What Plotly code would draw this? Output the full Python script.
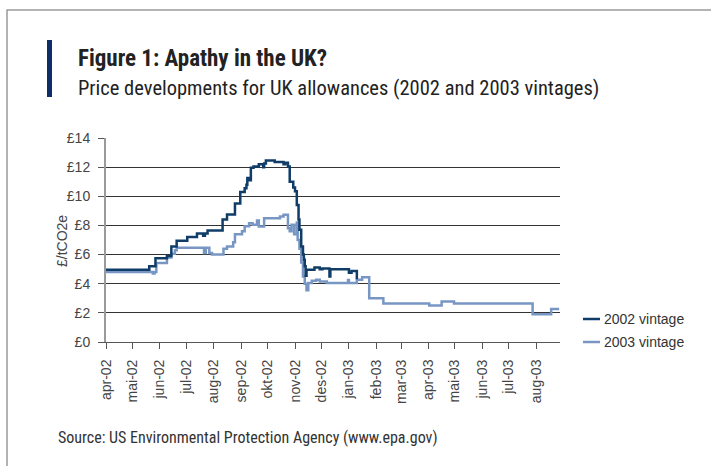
import plotly.graph_objects as go

# UK allowance prices, £/tCO2e (step series, each value holds until the next date)
dates_2002 = ["2002-04-01", "2002-05-20", "2002-05-27", "2002-06-09", "2002-06-14", "2002-06-20",
              "2002-07-02", "2002-07-13", "2002-07-20", "2002-07-22", "2002-07-25", "2002-08-11",
              "2002-08-16", "2002-08-25", "2002-08-31", "2002-09-05", "2002-09-07", "2002-09-08",
              "2002-09-10", "2002-09-12", "2002-09-15", "2002-09-21", "2002-09-26", "2002-09-27",
              "2002-09-29", "2002-10-09", "2002-10-19", "2002-10-21", "2002-10-24", "2002-10-26",
              "2002-10-30", "2002-11-01", "2002-11-03", "2002-11-05", "2002-11-06", "2002-11-08",
              "2002-11-10", "2002-11-11", "2002-11-12", "2002-11-13", "2002-11-14", "2002-11-23",
              "2002-11-29", "2002-12-02", "2002-12-10", "2002-12-11", "2003-01-01", "2003-01-04",
              "2003-01-10"]
prices_2002 = [4.95, 5.2, 5.75, 5.9, 6.55, 6.95,
               7.2, 7.45, 7.3, 7.45, 7.65, 8.4,
               8.75, 9.5, 10.3, 10.55, 10.8, 11.25,
               11.1, 11.95, 12.05, 12.2, 12.0, 12.25,
               12.45, 12.35, 12.2, 12.3, 12.05, 11.0,
               10.6, 10.35, 9.4, 8.4, 7.7, 6.55,
               6.0, 5.65, 5.2, 4.55, 4.95, 5.12,
               5.0, 5.05, 4.5, 5.0, 4.75, 4.88,
               4.3]

dates_2003 = ["2002-04-01", "2002-05-24", "2002-05-26", "2002-05-28", "2002-06-09", "2002-06-14",
              "2002-06-18", "2002-06-20", "2002-07-21", "2002-07-23", "2002-07-27", "2002-07-30",
              "2002-08-12", "2002-08-16", "2002-08-23", "2002-08-25", "2002-09-02", "2002-09-05",
              "2002-09-10", "2002-09-14", "2002-09-19", "2002-09-21", "2002-09-27", "2002-10-15",
              "2002-10-19", "2002-10-24", "2002-10-26", "2002-10-28", "2002-10-31", "2002-11-03",
              "2002-11-04", "2002-11-06", "2002-11-08", "2002-11-10", "2002-11-12", "2002-11-14",
              "2002-11-16", "2002-11-20", "2002-11-25", "2002-11-29", "2002-12-07", "2002-12-31",
              "2003-01-01", "2003-01-10", "2003-01-16", "2003-01-24", "2003-02-09", "2003-04-02",
              "2003-04-16", "2003-04-30", "2003-07-28", "2003-08-18", "2003-08-27"]
prices_2003 = [4.8, 4.7, 4.8, 5.42, 5.8, 6.05,
               6.3, 6.47, 6.1, 6.47, 6.1, 6.0,
               6.4, 6.55, 6.85, 7.4, 7.6, 7.95,
               8.15, 8.05, 8.33, 7.93, 8.5, 8.62,
               8.74, 7.8, 7.6, 8.05, 7.4, 8.2,
               7.0, 6.4, 5.45, 4.5, 4.0, 3.55,
               4.05, 4.2, 4.28, 4.15, 4.05, 4.25,
               4.05, 4.28, 4.45, 3.0, 2.65, 2.5,
               2.78, 2.65, 1.9, 2.27, 2.27]

month_ticks = ["2002-04-01", "2002-05-01", "2002-06-01", "2002-07-01", "2002-08-01", "2002-09-01",
               "2002-10-01", "2002-11-01", "2002-12-01", "2003-01-01", "2003-02-01", "2003-03-01",
               "2003-04-01", "2003-05-01", "2003-06-01", "2003-07-01", "2003-08-01"]
month_labels = ["apr-02", "mai-02", "jun-02", "jul-02", "aug-02", "sep-02", "okt-02", "nov-02",
                "des-02", "jan-03", "feb-03", "mar-03", "apr-03", "mai-03", "jun-03", "jul-03", "aug-03"]
price_ticks = [0, 2, 4, 6, 8, 10, 12, 14]
series_names = ["2002 vintage", "2003 vintage"]

DARK = "#0f3d68"
LIGHT = "#7896c4"
SANS = "Liberation Sans, Arial, sans-serif"
NARROW = "Liberation Sans Narrow, Arial Narrow, Roboto Condensed, sans-serif"

W, H = 711, 466
L, R, T, B = 106, 151, 138, 124
PW, PH = W - L - R, H - T - B


def px(x):
    return (x - L) / PW


def py(y):
    return (H - B - y) / PH


fig = go.Figure()
fig.add_trace(go.Scatter(x=dates_2003, y=prices_2003, mode="lines", line_shape="hv",
                         line=dict(color=LIGHT, width=2.5), name=series_names[1], showlegend=False))
fig.add_trace(go.Scatter(x=dates_2002, y=prices_2002, mode="lines", line_shape="hv",
                         line=dict(color=DARK, width=2.5), name=series_names[0], showlegend=False))

shapes = [
    # outer frame (top and left edges)
    dict(type="rect", xref="paper", yref="paper", x0=px(7), x1=px(730), y0=py(490), y1=py(10),
         line=dict(color="#9a9a9a", width=1.5), fillcolor="rgba(0,0,0,0)", layer="below"),
    # accent bar beside the heading
    dict(type="rect", xref="paper", yref="paper", x0=px(47), x1=px(52), y0=py(97), y1=py(40),
         line=dict(width=0), fillcolor="#0b2f66"),
]
annotations = [
    dict(text="<b>Figure 1: Apathy in the UK?</b>", xref="paper", yref="paper", x=px(76), y=py(58),
         xanchor="left", yanchor="middle", showarrow=False, font=dict(family=NARROW, size=23, color="#222")),
    dict(text="Price developments for UK allowances (2002 and 2003 vintages)", xref="paper", yref="paper",
         x=px(76), y=py(88), xanchor="left", yanchor="middle", showarrow=False,
         font=dict(family=NARROW, size=20.5, color="#222")),
    dict(text="Source: US Environmental Protection Agency (www.epa.gov)", xref="paper", yref="paper",
         x=px(56), y=py(437), xanchor="left", yanchor="middle", showarrow=False,
         font=dict(family=NARROW, size=16, color="#333")),
    # value-axis title
    dict(text="£/tCO2e", xref="paper", yref="paper", x=px(62), y=py(241), textangle=-90,
         xanchor="center", yanchor="middle", showarrow=False, font=dict(family=SANS, size=14, color="#444")),
]
# legend drawn as short line keys with labels
for i, (name, col) in enumerate(zip(series_names, [DARK, LIGHT])):
    yy = 319 + 23 * i
    shapes.append(dict(type="line", xref="paper", yref="paper", x0=px(583), x1=px(600), y0=py(yy), y1=py(yy),
                       line=dict(color=col, width=2.5)))
    annotations.append(dict(text=name, xref="paper", yref="paper", x=px(602), y=py(yy), xanchor="left",
                            yanchor="middle", showarrow=False, font=dict(family=SANS, size=14, color="#333")))

fig.update_layout(
    width=W, height=H, margin=dict(l=L, r=R, t=T, b=B, autoexpand=False),
    paper_bgcolor="white", plot_bgcolor="white",
    font=dict(family=SANS, size=14, color="#444"),
    shapes=shapes, annotations=annotations, showlegend=False,
    xaxis=dict(type="date", range=["2002-04-01", "2003-08-28"], tickvals=month_ticks, ticktext=month_labels,
               tickangle=-90, ticks="outside", ticklen=6, tickcolor="#555", ticklabelstandoff=5,
               showline=True, linecolor="#555", linewidth=1, showgrid=False, zeroline=False,
               tickfont=dict(family=SANS, size=14, color="#444")),
    yaxis=dict(range=[0, 14], tickvals=price_ticks, ticktext=["£%d" % v for v in price_ticks],
               ticks="outside", ticklen=6, tickcolor="#555", ticklabelstandoff=5,
               showline=True, linecolor="#9a9a9a", linewidth=2, showgrid=True, gridcolor="#333",
               gridwidth=1, zeroline=False, tickfont=dict(family=SANS, size=14, color="#444")),
)

fig.write_html("out.html")
